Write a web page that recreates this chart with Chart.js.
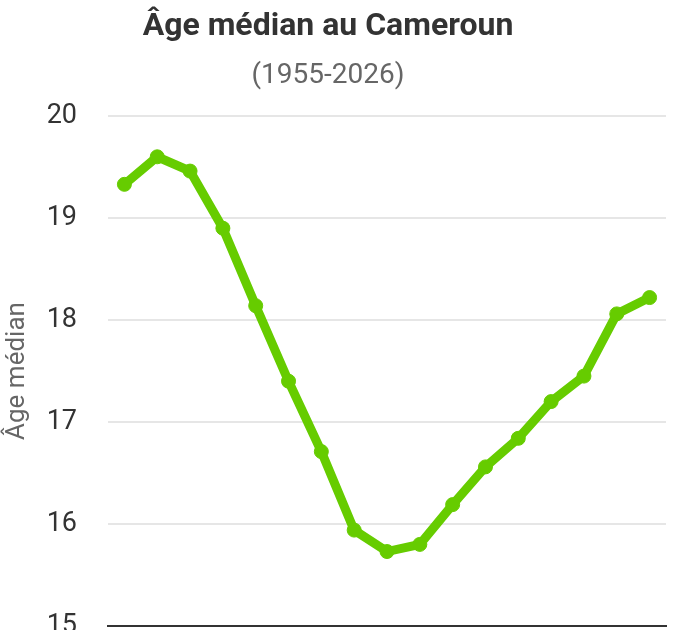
<!DOCTYPE html>
<html lang="fr">
<head>
<meta charset="utf-8">
<title>Âge médian au Cameroun</title>
<script src="https://cdn.jsdelivr.net/npm/chart.js@4.4.1/dist/chart.umd.min.js"></script>
<style>
    html, body { margin: 0; padding: 0; background: #ffffff; overflow: hidden; }
    #chartBox { position: absolute; left: -10px; top: 0; width: 701px; height: 700px; }
</style>
</head>
<body>
<div id="chartBox"><canvas id="medianAgeChart"></canvas></div>
<script>
// Chart data
const years = ['1955', '1960', '1965', '1970', '1975', '1980', '1985', '1990', '1995',
    '2000', '2005', '2010', '2015', '2020', '2024', '2025', '2026'];
const medianAge = [19.33, 19.60, 19.46, 18.90, 18.14, 17.40, 16.71, 15.94, 15.73,
    15.80, 16.19, 16.56, 16.84, 17.20, 17.45, 18.06, 18.22];
const yTicks = [15, 16, 17, 18, 19, 20];

const titleText = 'Âge médian au Cameroun';
const subtitleText = '(1955-2026)';
const axisTitle = 'Âge médian';

const green = '#66cc00';
const fontFamily = 'Roboto, "Noto Sans", sans-serif';

function initMedianAgeChart() {
    const ctx = document.getElementById('medianAgeChart').getContext('2d');

    return new Chart(ctx, {
        type: 'line',
        data: {
            labels: years,
            datasets: [{
                label: axisTitle,
                data: medianAge,
                borderColor: green,
                backgroundColor: green,
                borderWidth: 9,
                pointRadius: 7,
                pointBorderWidth: 1,
                pointBackgroundColor: green,
                pointBorderColor: green,
                tension: 0,
                fill: false
            }]
        },
        options: {
            responsive: true,
            maintainAspectRatio: false,
            animation: false,
            layout: { padding: { left: 0, right: 25, top: 0, bottom: 0 } },
            plugins: {
                legend: { display: false },
                tooltip: { enabled: false },
                title: {
                    display: true,
                    text: titleText,
                    color: '#333333',
                    font: { family: fontFamily, size: 32, weight: 'bold' },
                    padding: { top: 8, bottom: 6 }
                },
                subtitle: {
                    display: true,
                    text: subtitleText,
                    color: '#666666',
                    font: { family: fontFamily, size: 28 },
                    padding: { top: 7, bottom: 23 }
                }
            },
            scales: {
                x: {
                    offset: true,
                    grid: { display: false },
                    border: { display: true, color: '#333333', width: 2 },
                    ticks: {
                        color: '#333333',
                        font: { family: fontFamily, size: 27 },
                        maxRotation: 45
                    },
                    afterFit: (scale) => { scale.height = 74; }
                },
                y: {
                    min: yTicks[0],
                    max: yTicks[yTicks.length - 1],
                    grid: { color: '#e6e6e6', lineWidth: 2, drawTicks: false },
                    border: { display: false },
                    ticks: {
                        stepSize: 1,
                        padding: 31,
                        color: '#333333',
                        font: { family: fontFamily, size: 27 }
                    },
                    title: {
                        display: true,
                        text: axisTitle,
                        color: '#666666',
                        font: { family: fontFamily, size: 26 },
                        padding: { top: 12, bottom: 4 }
                    },
                    afterFit: (scale) => { scale.width = 118; }
                }
            }
        }
    });
}

initMedianAgeChart();
</script>
</body>
</html>
